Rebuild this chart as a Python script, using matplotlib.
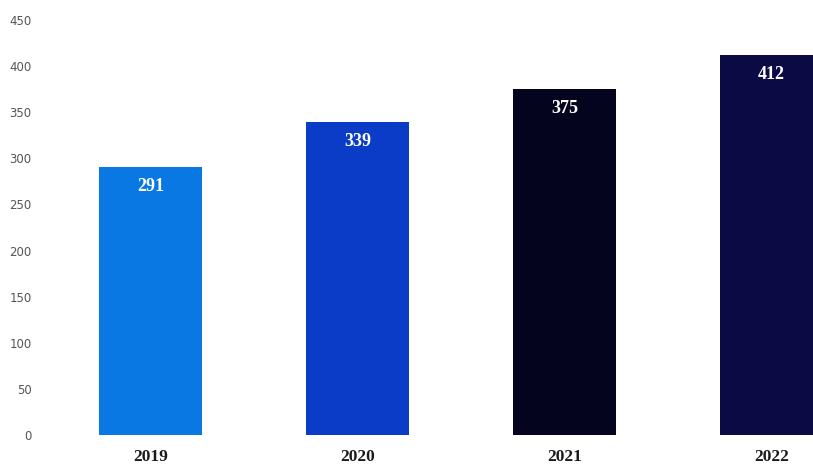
import matplotlib.pyplot as plt

anos = ['2019', '2020', '2021', '2022']
valores = [291, 339, 375, 412]
colores = ['#0A78E2', '#0A3CC8', '#05041E', '#0B0A45']

fig = plt.figure(figsize=(8.13, 4.68), dpi=100)
ax = fig.add_axes([40 / 813, 33 / 468, 773 / 813, 415 / 468])

x = list(range(len(anos)))
barras = ax.bar(x, valores, width=0.5, color=colores)

# etiquetas dentro de las barras
for xi, v in zip(x, valores):
    ax.annotate(str(v), (xi, v), xytext=(0, -8), textcoords='offset points',
                ha='center', va='top', color='white', fontsize=13,
                fontweight='bold', family='Liberation Serif')

ax.set_xlim(-0.534, 3.2)
ax.set_ylim(0, 450)
ax.set_yticks(range(0, 451, 50))
ax.set_xticks(x)
ax.set_xticklabels(anos, fontsize=12.5, fontweight='bold', family='Liberation Serif', color='#1a1a1a')
ax.tick_params(axis='y', labelsize=8.5, labelcolor='#555555', length=0, pad=6)
ax.tick_params(axis='x', length=0, pad=10)
for s in ax.spines.values():
    s.set_visible(False)

plt.savefig('out.png', dpi=100)
